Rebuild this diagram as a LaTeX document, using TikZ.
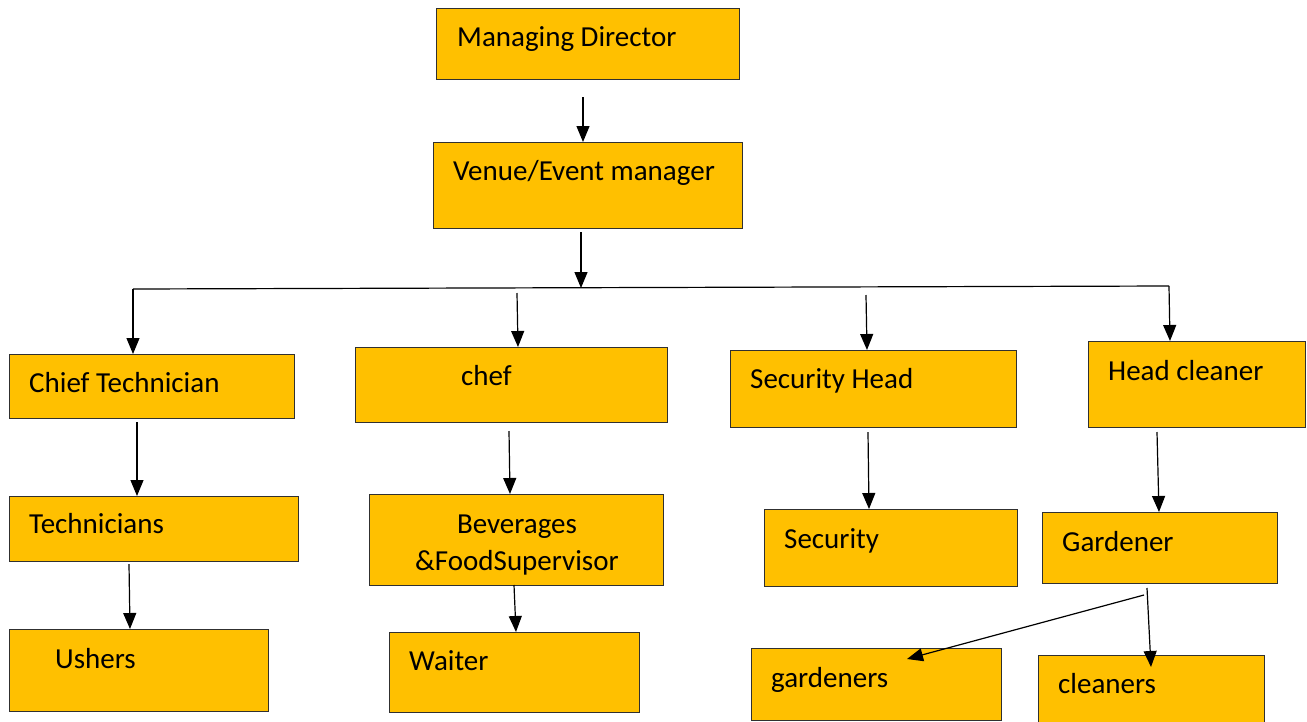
\documentclass[tikz,border=0pt]{standalone}
\usepackage{fontspec}
\setmainfont{Carlito}
\usetikzlibrary{arrows.meta}
\definecolor{boxfill}{HTML}{FFC000}
\definecolor{boxline}{HTML}{303030}
\tikzset{
  box/.style={draw=boxline, fill=boxfill, line width=1.3pt, inner sep=0pt, anchor=north west},
  lbl/.style={anchor=base west, inner sep=0pt, font=\fontsize{29}{34}\selectfont},
  clbl/.style={anchor=base, inner sep=0pt, font=\fontsize{29}{34}\selectfont},
  conn/.style={line width=1.2pt, -{Triangle[length=16pt,width=13pt]}},
  plain/.style={line width=1.2pt}
}
\begin{document}
\begin{tikzpicture}[x=1pt,y=-1pt]
\useasboundingbox (0,0) rectangle (1307,721);
% boxes
\node[box, minimum width=303pt, minimum height=71pt] (md) at (436,8) {};
\node[box, minimum width=309pt, minimum height=86pt] (vem) at (433,142) {};
\node[box, minimum width=285pt, minimum height=64pt] (ct) at (9,354) {};
\node[box, minimum width=312pt, minimum height=75pt] (chef) at (355,347) {};
\node[box, minimum width=286pt, minimum height=77pt] (sh) at (730,350) {};
\node[box, minimum width=217pt, minimum height=86pt] (hc) at (1088,341) {};
\node[box, minimum width=289pt, minimum height=65pt] (tech) at (9,496) {};
\node[box, minimum width=259pt, minimum height=82pt] (ush) at (9,629) {};
\node[box, minimum width=294pt, minimum height=91pt] (bev) at (369,494) {};
\node[box, minimum width=250pt, minimum height=80pt] (wait) at (389,632) {};
\node[box, minimum width=253pt, minimum height=77pt] (sec) at (764,509) {};
\node[box, minimum width=235pt, minimum height=71pt] (gar) at (1042,512) {};
\node[box, minimum width=250pt, minimum height=72pt] (gars) at (751,648) {};
\node[box, minimum width=226pt, minimum height=80pt] (cln) at (1038,655) {};
% labels
\node[lbl] (tmd) at (457,46) {Managing Director};
\node[lbl] (tvem) at (453,180) {Venue/Event manager};
\node[lbl] (tct) at (29,392) {Chief Technician};
\node[lbl] (tchef) at (461,385) {chef};
\node[lbl] (tsh) at (750,388) {Security Head};
\node[lbl] (thc) at (1108,380) {Head cleaner};
\node[lbl] (ttech) at (29,533) {Technicians};
\node[lbl] (tush) at (55,668) {Ushers};
\node[clbl] (tbev1) at (517,533) {Beverages};
\node[clbl] (tbev2) at (517,570) {\&FoodSupervisor};
\node[lbl] (twait) at (409,670) {Waiter};
\node[lbl] (tsec) at (784,548) {Security};
\node[lbl] (tgar) at (1062,551) {Gardener};
\node[lbl] (tgars) at (771,687) {gardeners};
\node[lbl] (tcln) at (1058,693) {cleaners};
% free-end coordinates
\coordinate (a1) at (583,97);
\coordinate (a2) at (581,232);
\coordinate (busL) at (133,289);
\coordinate (busR) at (1169,286);
\coordinate (bchef) at (517,293);
\coordinate (bsh) at (866,295);
\coordinate (c1) at (137,422);
\coordinate (c2) at (129,564);
\coordinate (c3) at (509,431);
\coordinate (c4) at (514,585);
\coordinate (c5) at (868,432);
\coordinate (c6) at (1157,432);
\coordinate (g1) at (1147,588);
\coordinate (g2) at (1144,595);
\coordinate (gtip) at (907,659);
% connectors
\draw[conn] (a1) -- (583,142);
\draw[conn] (a2) -- (581,288);
\draw[plain] (busL) -- (busR);
\draw[conn] (busL) -- (ct.north -| busL);
\draw[conn] (bchef) -- (518,347);
\draw[conn] (bsh) -- (867,350);
\draw[conn] (busR) -- (1170,341);
\draw[conn] (c1) -- (137,496);
\draw[conn] (c2) -- (130,629);
\draw[conn] (c3) -- (510,494);
\draw[conn] (c4) -- (516,632);
\draw[conn] (c5) -- (869,509);
\draw[conn] (c6) -- (1159,512);
\draw[conn] (g1) -- (1151,667);
\draw[conn] (g2) -- (gtip);
\end{tikzpicture}
\end{document}
